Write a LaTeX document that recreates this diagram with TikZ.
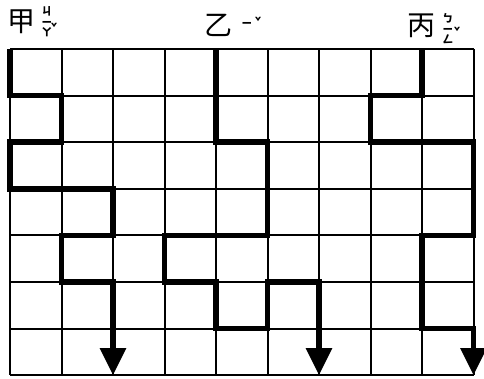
\documentclass[tikz,border=0pt]{standalone}
\usepackage{fontspec}
\newfontfamily\cjk{Noto Sans CJK TC}
\usetikzlibrary{positioning,arrows.meta}
\tikzset{
  gridline/.style={line width=2pt, black},
  route/.style={line width=5.5pt, black, line join=miter},
  routeend/.style={route, -{Triangle[width=25pt,length=27pt]}},
  stem/.style={font=\cjk\fontsize{28}{28}\selectfont, inner sep=0pt},
  zhuyin/.style={font=\cjk\bfseries\fontsize{11}{10.5}\selectfont, inner sep=0pt, align=center},
  tone/.style={font=\cjk\bfseries\fontsize{10}{10}\selectfont, inner sep=0pt},
}

\begin{document}
\begin{tikzpicture}[x=1pt, y=-1pt]
  \useasboundingbox (0,0) rectangle (484,379);

  % heads
  \node[stem] (jia)  at (21,22) {甲};
  \node[stem] (yi)   at (218,25) {乙};
  \node[stem] (bing) at (421,26) {丙};
  \node[zhuyin, right=6pt of jia]  (jiazy)  {ㄐ\\ㄧ\\ㄚ};
  \node[zhuyin, right=9pt of yi]   (yizy)   {ㄧ};
  \node[zhuyin, right=7pt of bing, yshift=-3pt] (bingzy) {ㄅ\\ㄧ\\ㄥ};
  \node[tone] (jiatone)  at (54,27) {ˇ};
  \node[tone] (yitone)   at (258,21) {ˇ};
  \node[tone] (bingtone) at (457,31) {ˇ};

  \begin{scope}[xshift=10pt, yshift=-49pt, x=51.5pt, y=-46.6pt]
    % grid
    \foreach \i in {0,...,9}
      \draw[gridline] (\i,0) -- (\i,7);
    \foreach \j in {0,...,7}
      \draw[gridline] (0,\j) -- (9,\j);

    % routes
    \draw[routeend] (0,0) -- (0,1) -- (1,1) -- (1,2) -- (0,2) -- (0,3) -- (2,3)
      -- (2,4) -- (1,4) -- (1,5) -- (2,5) -- (2,7);
    \draw[routeend] (4,0) -- (4,2) -- (5,2) -- (5,4) -- (3,4) -- (3,5) -- (4,5)
      -- (4,6) -- (5,6) -- (5,5) -- (6,5) -- (6,7);
    \draw[routeend] (8,0) -- (8,1) -- (7,1) -- (7,2) -- (9,2) -- (9,4) -- (8,4)
      -- (8,6) -- (9,6) -- (9,7);
  \end{scope}
\end{tikzpicture}
\end{document}
